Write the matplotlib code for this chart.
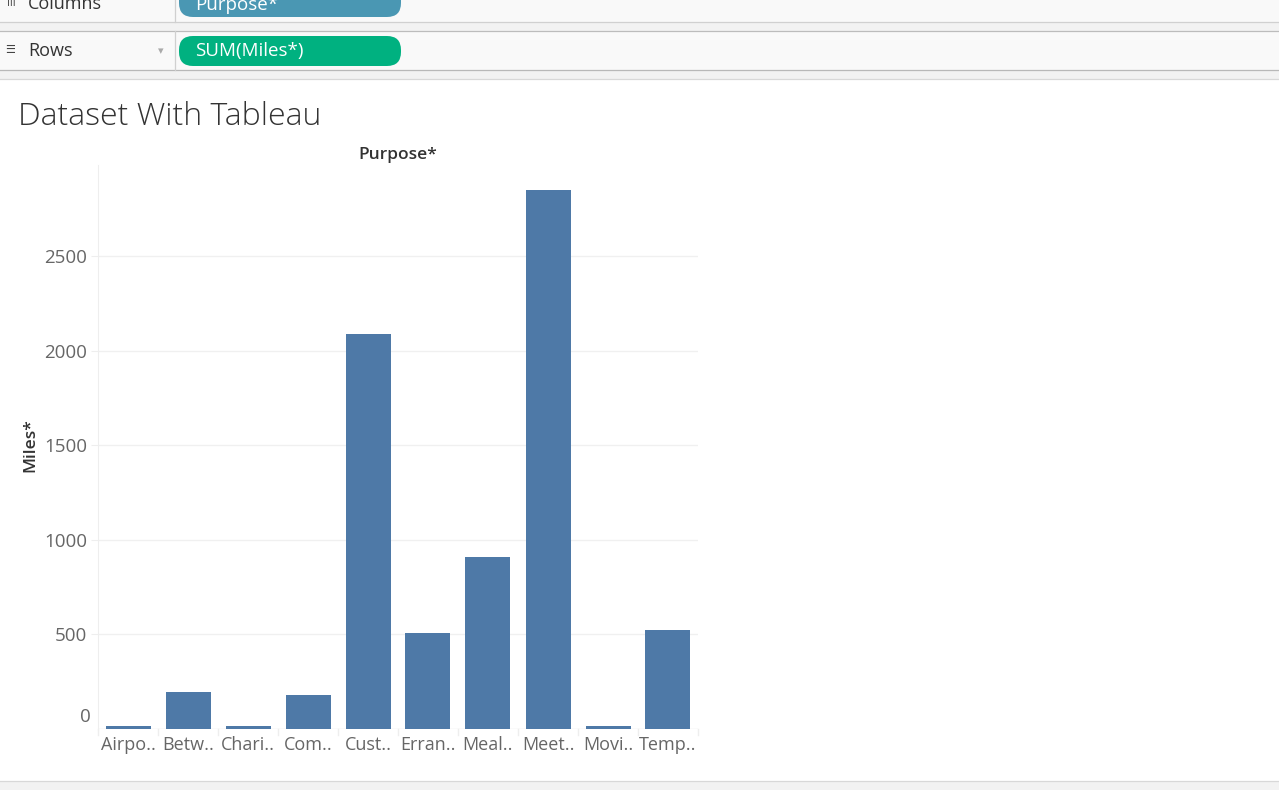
import matplotlib
matplotlib.use("Agg")
import matplotlib.pyplot as plt
from matplotlib.patches import FancyBboxPatch, Rectangle

# data: miles by trip purpose
purposes = ["Airpo..", "Betw..", "Chari..", "Com..", "Cust..",
            "Erran..", "Meal..", "Meet..", "Movi..", "Temp.."]
miles = [16.5, 197.0, 15.1, 180.2, 2089.5, 508.0, 911.7, 2851.3, 18.2, 523.7]
yticks = [500, 1000, 1500, 2000, 2500]

W, H = 1279, 790
plt.rcParams['font.family'] = ['Open Sans', 'DejaVu Sans']

fig = plt.figure(figsize=(W / 100, H / 100), dpi=100)

# background layer in pixel coords (y down)
bg = fig.add_axes([0, 0, 1, 1])
bg.set_xlim(0, W)
bg.set_ylim(H, 0)
bg.axis('off')

# shelf bands
bg.add_patch(Rectangle((0, 0), W, 22, color='#f9f9f9', lw=0))
bg.add_patch(Rectangle((0, 22), W, 9, color='#f2f2f2', lw=0))
bg.add_patch(Rectangle((0, 31), W, 39, color='#f9f9f9', lw=0))
bg.add_patch(Rectangle((0, 70), W, 9, color='#f2f2f2', lw=0))
bg.add_patch(Rectangle((0, 781), W, 10, color='#f2f2f2', lw=0))
for yy, c in [(22, '#d0d0d0'), (31, '#bcbcbc'), (70, '#b8b8b8'), (79, '#d8d8d8'), (781, '#d8d8d8')]:
    bg.plot([0, W], [yy, yy], color=c, lw=0.9)
bg.plot([175, 175], [0, 22], color='#d0d0d0', lw=0.9)
bg.plot([175, 175], [31, 70], color='#d0d0d0', lw=0.9)

# pills
bg.add_patch(FancyBboxPatch((179, -20), 222, 37, boxstyle="round,pad=0,rounding_size=14",
                            color='#4a97b3', lw=0))
bg.add_patch(FancyBboxPatch((179, 36), 222, 30, boxstyle="round,pad=0,rounding_size=14",
                            color='#00b180', lw=0))
bg.text(195, 5, "Purpose*", color='white', fontsize=13.5, va='center')
bg.text(195, 51, "SUM(Miles*)", color='white', fontsize=13.5, va='center')
bg.text(28, 4, "Columns", color='#333333', fontsize=13, va='center')
bg.text(28, 51, "Rows", color='#333333', fontsize=13, va='center')
bg.text(7, 3, "III", color='#444444', fontsize=7, va='center', family='DejaVu Sans')
bg.text(5, 50, "\u2630", color='#444444', fontsize=8, va='center', family='DejaVu Sans')
bg.text(161, 51, "\u25BE", color='#aaaaaa', fontsize=8, va='center', ha='center', family='DejaVu Sans')

# title
bg.text(18, 117, "Dataset With Tableau", color='#333333', fontsize=23, va='center',
        fontweight='light')
bg.text(398, 155, "Purpose*", color='#333333', fontsize=12.5, va='center', ha='center',
        fontweight='semibold')
bg.text(30, 445, "Miles*", color='#333333', fontsize=12.5, va='center', ha='center',
        rotation=90, fontweight='semibold')

# chart
left, right, top, bottom = 98, 698, 165, 729
ax = fig.add_axes([left / W, 1 - bottom / H, (right - left) / W, (bottom - top) / H])
ax.set_facecolor('none')
x = list(range(len(purposes)))
ax.bar(x, miles, width=0.75, color='#4e79a7', zorder=3)
ax.set_xlim(-0.5, len(purposes) - 0.5)
ax.set_ylim(0, 2984)

ax.set_yticks(yticks)
ax.set_yticklabels([str(t) for t in yticks], color='#666666', fontsize=13.5)
ax.set_xticks(x)
ax.set_xticklabels(purposes, color='#666666', fontsize=13)
ax.tick_params(axis='y', length=5, color='#eeeeee', pad=3)
ax.tick_params(axis='x', length=0, pad=5)
ax.grid(axis='y', color='#f0f0f0', lw=1, zorder=0)
for s in ['top', 'right', 'bottom']:
    ax.spines[s].set_visible(False)
ax.spines['left'].set_color('#eeeeee')

# baseline and category separators
ax.axhline(0, color='#e8e8e8', lw=1, zorder=2)
for i in range(len(purposes) + 1):
    ax.plot([i - 0.5, i - 0.5], [0, -32], color='#eeeeee', lw=1, clip_on=False)

# zero label sits above the baseline like Tableau does
ax.annotate("0", xy=(0, 0), xycoords=('axes fraction', 'data'),
            xytext=(-5, 9), textcoords='offset points', ha='right', va='center',
            color='#666666', fontsize=13.5)

fig.savefig("out.png", dpi=100)
